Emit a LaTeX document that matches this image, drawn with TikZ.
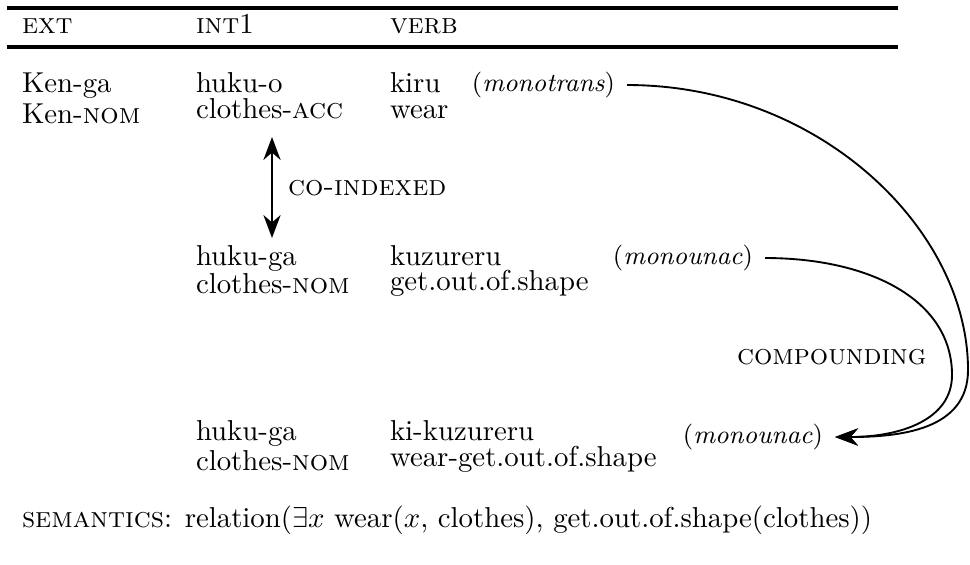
\documentclass[tikz,border=0pt]{standalone}
\usetikzlibrary{arrows.meta,calc}
\tikzset{
  txt/.style={anchor=base west, inner sep=0pt, outer sep=0pt},
  txtr/.style={anchor=base east, inner sep=0pt, outer sep=0pt, font=\small},
  rulel/.style={line width=1.15pt},
  tipst/.tip={Stealth[length=8pt,width=6pt,inset=2.6pt]},
  conn/.style={line width=0.65pt, -tipst},
  conn2/.style={line width=0.65pt, tipst-tipst}
}
\begin{document}
\begin{tikzpicture}[x=0.3472pt,y=-0.3472pt]
\useasboundingbox (0,0) rectangle (970,564);
% rules
\draw[rulel] (7,8) -- (898,8);
\draw[rulel] (7,47) -- (898,47);
% header
\node[txt] (hext) at (22,33) {\textsc{ext}};
\node[txt] (hint) at (196,33) {\textsc{int}1};
\node[txt] (hverb) at (390,33) {\textsc{verb}};
% row 1
\node[txt] (kenga) at (22,92) {Ken-ga};
\node[txt] (kennom) at (22,123) {Ken-\textsc{nom}};
\node[txt] (hukuo) at (196,92) {huku-o};
\node[txt] (clacc) at (196,118) {clothes-\textsc{acc}};
\node[txt] (kiru) at (390,92) {kiru};
\node[txt] (wear) at (390,118) {wear};
\node[txtr] (m1) at (615,91.5) {(\textit{monotrans})};
% co-indexed
\coordinate (ciA) at (272,137);
\coordinate (ciB) at (272,238);
\draw[conn2] (ciA) -- (ciB);
\node[txt] (cilab) at (288,195) {\textsc{co-indexed}};
% row 2
\node[txt] (hukuga2) at (196,265) {huku-ga};
\node[txt] (clnom2) at (196,293) {clothes-\textsc{nom}};
\node[txt] (kuzu) at (390,265) {kuzureru};
\node[txt] (geto) at (390,290) {get.out.of.shape};
\node[txtr] (m2) at (753,264.5) {(\textit{monounac})};
% compounding
\node[txt] (comp) at (737,364) {\textsc{compounding}};
% row 3
\node[txt] (hukuga3) at (196,440) {huku-ga};
\node[txt] (clnom3) at (196,470) {clothes-\textsc{nom}};
\node[txt] (kikuzu) at (390,440) {ki-kuzureru};
\node[txt] (wgeto) at (390,466) {wear-get.out.of.shape};
\node[txtr] (m3) at (823,443.5) {(\textit{monounac})};
% semantics
\node[txt] (sem) at (22,527) {\textsc{semantics}: relation($\exists x$ wear($x$, clothes), get.out.of.shape(clothes))};
% curved arrows
\coordinate (s1) at ($(m1.east)+(12,0)$);
\coordinate (s2) at ($(m2.east)+(12,0)$);
\coordinate (t3) at ($(m3.east)+(12,0)$);
\draw[conn] (s1) .. controls (820,85) and (968,230) .. (968,370)
  .. controls (968,430) and (900,437) .. (t3);
\draw[conn] (s2) .. controls (870,258) and (952,300) .. (952,375)
  .. controls (952,420) and (900,437) .. (t3);
\end{tikzpicture}
\end{document}
